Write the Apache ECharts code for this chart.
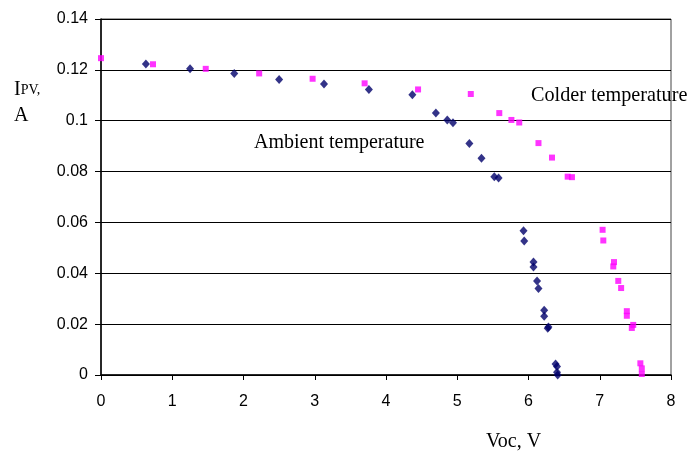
<!DOCTYPE html>
<html>
<head>
<meta charset="utf-8">
<script src="https://cdn.jsdelivr.net/npm/echarts@6/dist/echarts.min.js"></script>
<style>html,body{margin:0;padding:0;background:#fff}#c{width:689px;height:457px}</style>
</head>
<body>
<div id="c"></div>
<script>
// Ambient temperature: [Voc (V), Ipv (A)]
var ambientV = [0.63, 1.25, 1.87, 2.50, 3.13, 3.76, 4.37, 4.70, 4.86, 4.94, 5.17, 5.34, 5.52, 5.58,
                5.93, 5.94, 6.07, 6.07, 6.12, 6.14, 6.22, 6.22, 6.28, 6.27, 6.38, 6.40, 6.40, 6.41];
var ambientI = [0.1223, 0.1204, 0.1186, 0.1162, 0.1144, 0.1123, 0.1102, 0.1030, 0.1003, 0.0992, 0.0910, 0.0852, 0.0780, 0.0775,
                0.0567, 0.0527, 0.0444, 0.0425, 0.0370, 0.0340, 0.0255, 0.0231, 0.0189, 0.0184, 0.0043, 0.0033, 0.0011, 0.0000];
// Colder temperature
var colderV = [0.00, 0.73, 1.47, 2.22, 2.97, 3.70, 4.45, 5.19, 5.59, 5.76, 5.87, 6.14, 6.33, 6.55, 6.61,
               7.04, 7.05, 7.20, 7.19, 7.26, 7.30, 7.38, 7.38, 7.47, 7.45, 7.57, 7.59, 7.59];
var colderI = [0.1246, 0.1222, 0.1204, 0.1186, 0.1165, 0.1147, 0.1123, 0.1105, 0.1030, 0.1003, 0.0993, 0.0912, 0.0855, 0.0780, 0.0778,
               0.0571, 0.0529, 0.0444, 0.0427, 0.0370, 0.0342, 0.0251, 0.0233, 0.0197, 0.0185, 0.0046, 0.0026, 0.0004];
var xTicks = [0, 1, 2, 3, 4, 5, 6, 7, 8];
var yTicks = ['0', '0.02', '0.04', '0.06', '0.08', '0.1', '0.12', '0.14'];

function pairs(xs, ys) { return xs.map(function (x, i) { return [x, ys[i]]; }); }

var chart = echarts.init(document.getElementById('c'));
chart.setOption({
  animation: false,
  backgroundColor: '#fff',
  grid: { left: 101, right: 18, top: 19, bottom: 82, containLabel: false, outerBoundsMode: 'none',
          show: true, borderColor: '#444', borderWidth: 1, backgroundColor: 'transparent' },
  xAxis: {
    type: 'value', min: 0, max: 8, interval: 1,
    axisLine: { show: true, onZero: false, lineStyle: { color: '#000', width: 1.5 } },
    axisTick: { show: true, inside: false, length: 5, lineStyle: { color: '#000' } },
    axisLabel: { margin: 19, color: '#000', fontFamily: 'Liberation Sans, Arial', fontSize: 16,
                 formatter: function (v) { return String(xTicks[Math.round(v)]); } },
    splitLine: { show: false }
  },
  yAxis: {
    type: 'value', min: 0, max: 0.14, interval: 0.02,
    axisLine: { show: true, onZero: false, lineStyle: { color: '#000', width: 1.5 } },
    axisTick: { show: true, inside: false, length: 6, lineStyle: { color: '#000' } },
    axisLabel: { margin: 13, color: '#000', fontFamily: 'Liberation Sans, Arial', fontSize: 16,
                 formatter: function (v) { return yTicks[Math.round(v / 0.02)]; } },
    splitLine: { show: true, lineStyle: { color: '#000', width: 1 } }
  },
  series: [
    { name: 'Ambient temperature', type: 'scatter', symbol: 'diamond', symbolSize: [8, 9],
      itemStyle: { color: '#00006a' }, data: pairs(ambientV, ambientI), z: 3 },
    { name: 'Colder temperature', type: 'scatter', symbol: 'rect', symbolSize: 6,
      itemStyle: { color: '#ff00ff' }, data: pairs(colderV, colderI), z: 4 }
  ],
  graphic: [
    { type: 'text', left: 254, top: 133, z: 10,
      style: { text: 'Ambient temperature', font: '20px "Liberation Serif", "Times New Roman", serif', fill: '#000' } },
    { type: 'text', left: 531, top: 86, z: 10,
      style: { text: 'Colder temperature', font: '20.2px "Liberation Serif", "Times New Roman", serif', fill: '#000' } },
    { type: 'text', left: 486, top: 432, z: 10,
      style: { text: 'Voc, V', font: '20px "Liberation Serif", "Times New Roman", serif', fill: '#000' } },
    { type: 'text', left: 14, top: 80, z: 10,
      style: { text: '{a|I}{b|PV,}', fill: '#000',
               rich: { a: { font: '20px "Liberation Serif", serif', fill: '#000' },
                       b: { font: '14px "Liberation Serif", serif', fill: '#000' } } } },
    { type: 'text', left: 14, top: 106, z: 10,
      style: { text: 'A', font: '20px "Liberation Serif", "Times New Roman", serif', fill: '#000' } }
  ]
});
</script>
</body>
</html>
